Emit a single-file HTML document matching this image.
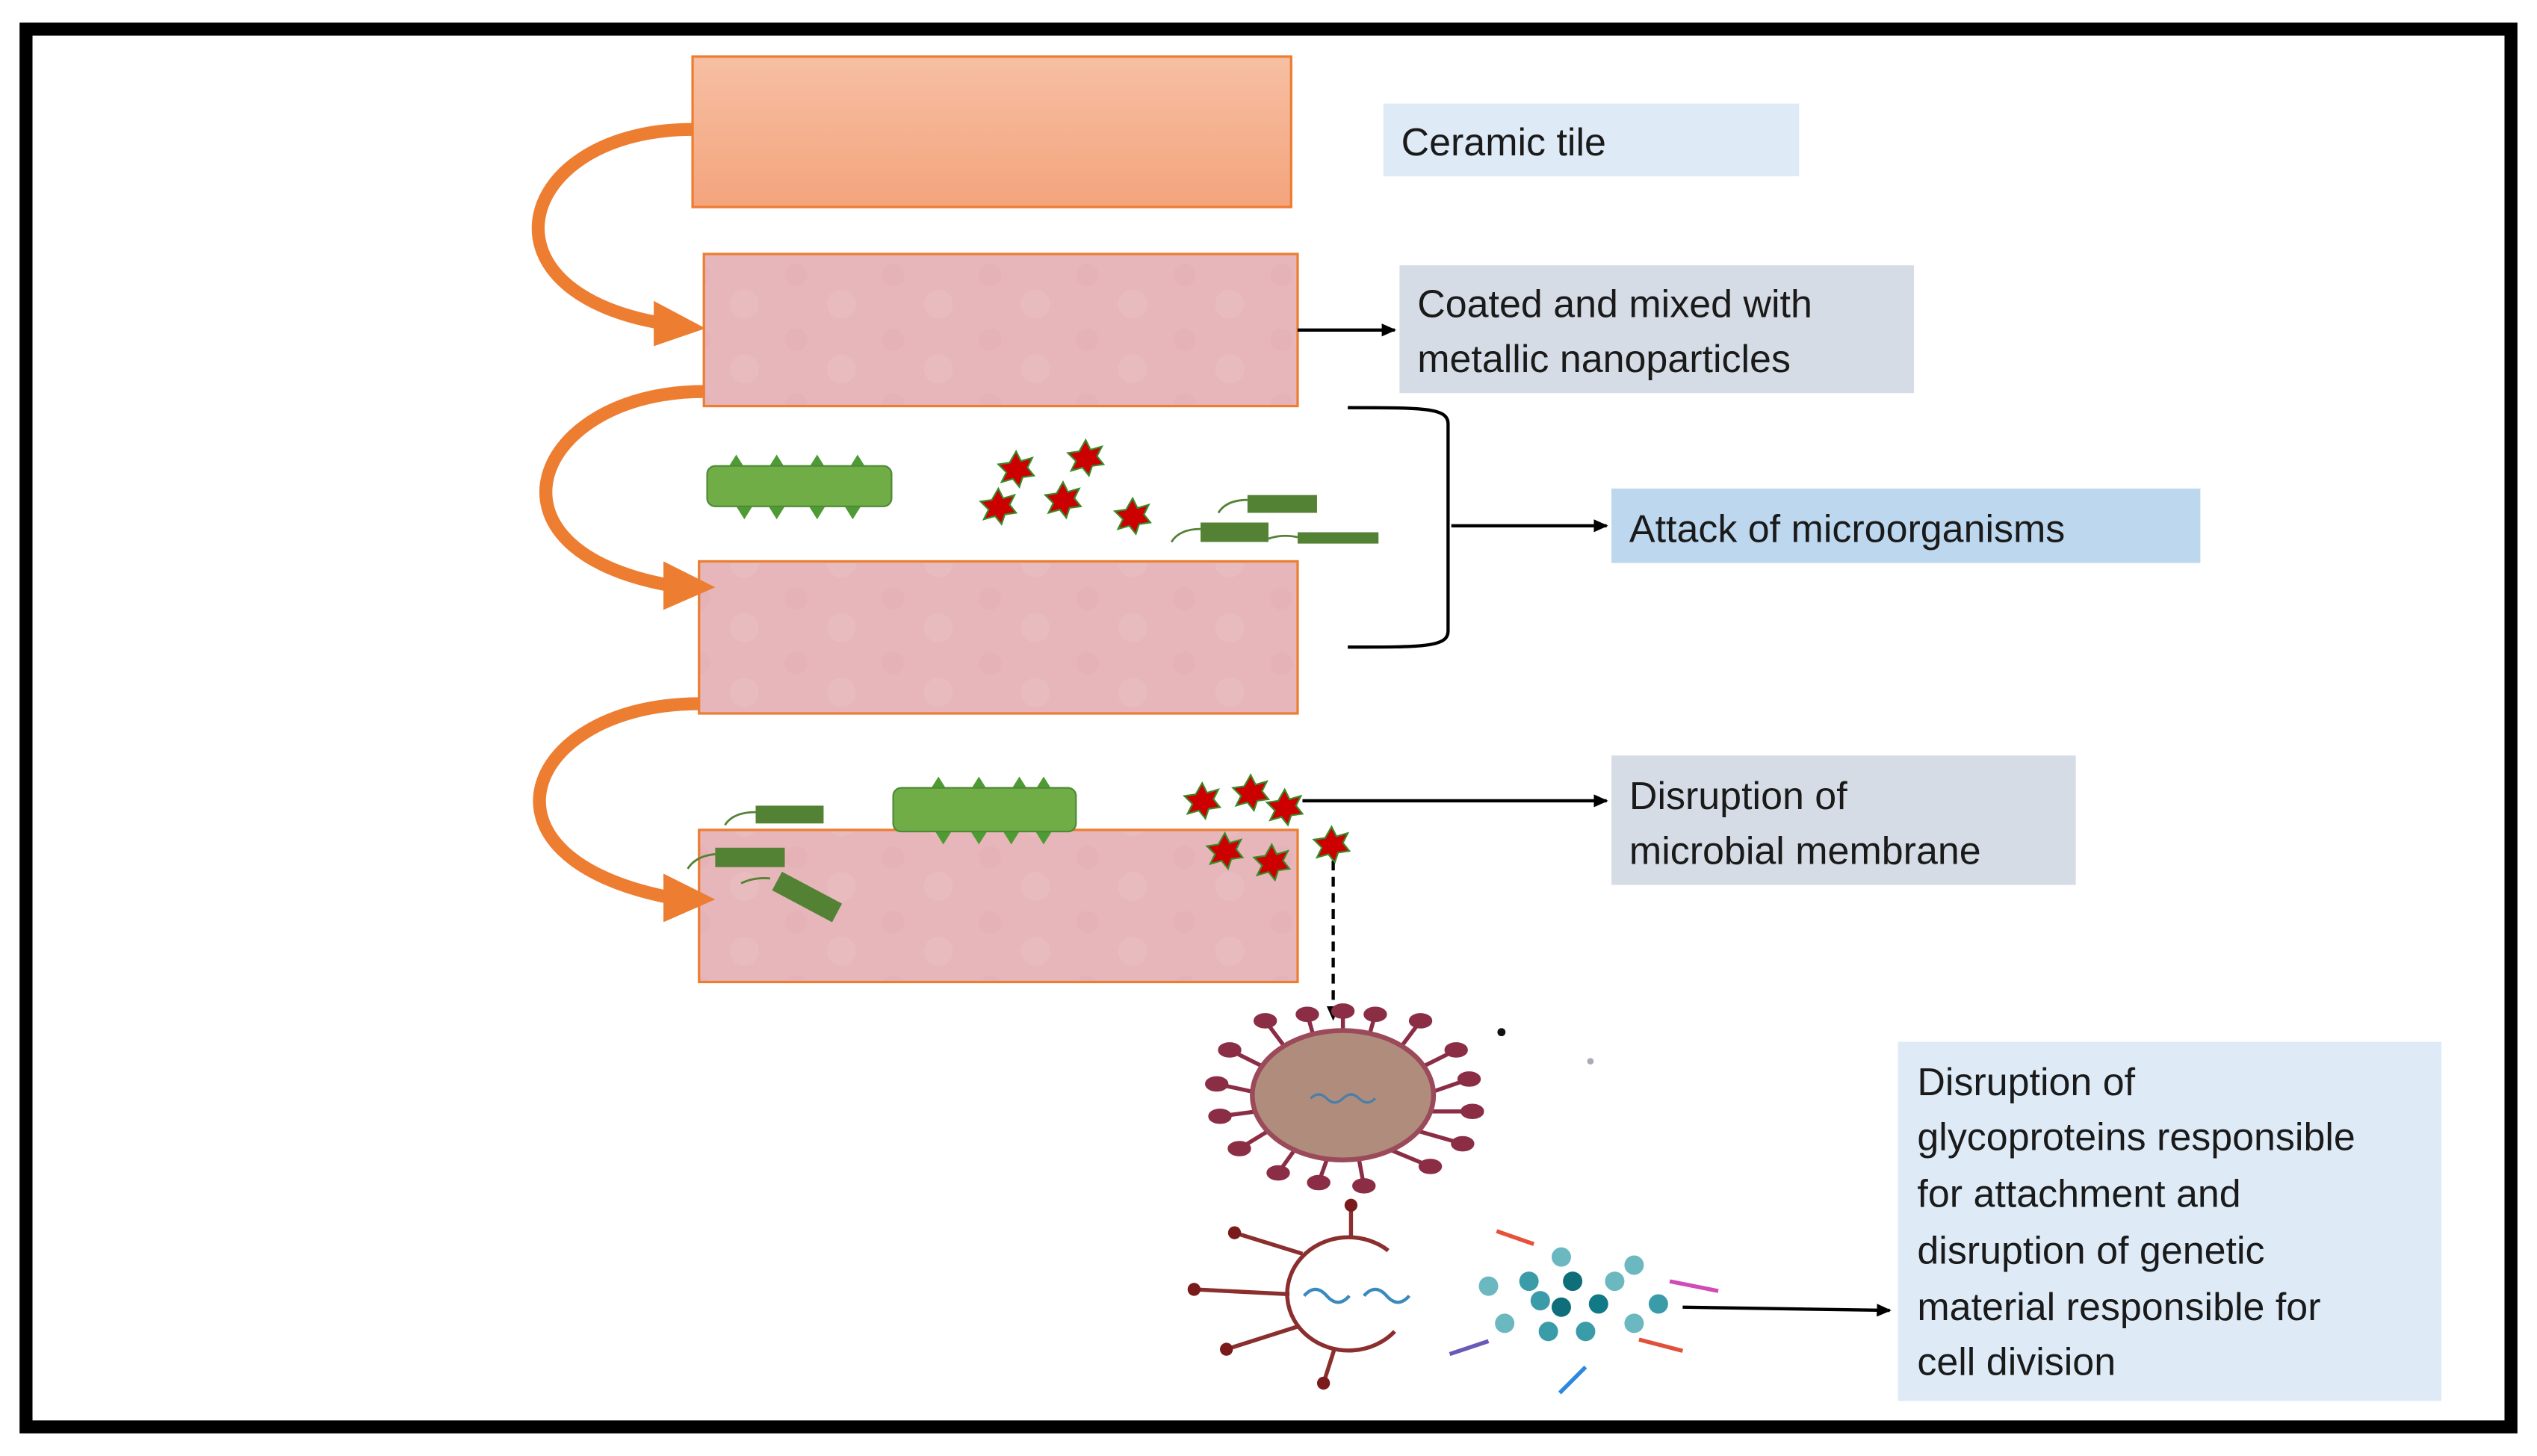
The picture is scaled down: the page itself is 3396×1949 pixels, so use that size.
<!DOCTYPE html>
<html><head><meta charset="utf-8"><style>
html,body{margin:0;padding:0;background:#fff;}
svg{display:block;}
text{font-family:"Liberation Sans",sans-serif;font-size:24px;fill:#1a1a1a;}
</style></head><body>
<svg width="3396" height="1949" viewBox="0 0 1568 900" xmlns="http://www.w3.org/2000/svg">
<defs>
<linearGradient id="g1" x1="0" y1="0" x2="0" y2="1"><stop offset="0" stop-color="#f6bfa3"/><stop offset="1" stop-color="#f4a47c"/></linearGradient>
<pattern id="tex" width="60" height="40" patternUnits="userSpaceOnUse">
<rect width="60" height="40" fill="#e6b6ba"/>
<circle cx="12" cy="10" r="7" fill="#e3b0b4" opacity=".5"/><circle cx="40" cy="28" r="9" fill="#eac0c3" opacity=".5"/>
</pattern>
<marker id="ah" markerWidth="10" markerHeight="10" refX="8" refY="5" orient="auto" markerUnits="userSpaceOnUse"><path d="M0,1 L9,5 L0,9 z" fill="#000"/></marker>
<g id="star"><path d="M0,-11 L3,-5 L10,-7 L7,-1 L11,4 L4,5 L2,11 L-2,6 L-9,8 L-6,2 L-11,-3 L-4,-4 z" fill="#c00" stroke="#3a8a2a" stroke-width="1"/></g>
</defs>
<rect x="16" y="18" width="1536" height="864" fill="#fff" stroke="#000" stroke-width="8"/>

<rect x="428" y="35" width="370" height="93" fill="url(#g1)" stroke="#ed7d31" stroke-width="1.5"/>
<rect x="435" y="157" width="367" height="94" fill="url(#tex)" stroke="#ed7d31" stroke-width="1.5"/>
<rect x="432" y="347" width="370" height="94" fill="url(#tex)" stroke="#ed7d31" stroke-width="1.5"/>
<rect x="432" y="513" width="370" height="94" fill="url(#tex)" stroke="#ed7d31" stroke-width="1.5"/>

<g fill="none" stroke="#ed7d31" stroke-width="8">
<path d="M428,80 C320,80 290,180 410,200"/>
<path d="M435,242 C330,242 290,340 415,362"/>
<path d="M432,435 C325,435 285,530 415,555"/>
</g>
<g fill="#ed7d31">
<path d="M404,186 L436,203 L404,214 z"/>
<path d="M410,347 L442,363 L410,377 z"/>
<path d="M410,540 L442,556 L410,570 z"/>
</g>

<rect x="855" y="64" width="257" height="45" fill="#deebf7"/>
<text x="866" y="96">Ceramic tile</text>
<rect x="865" y="164" width="318" height="79" fill="#d6dce5"/>
<text x="876" y="196">Coated and mixed with</text>
<text x="876" y="230">metallic nanoparticles</text>
<rect x="996" y="302" width="364" height="46" fill="#bdd7ee"/>
<text x="1007" y="335">Attack of microorganisms</text>
<rect x="996" y="467" width="287" height="80" fill="#d6dce5"/>
<text x="1007" y="500">Disruption of</text>
<text x="1007" y="534">microbial membrane</text>
<rect x="1173" y="644" width="336" height="222" fill="#deebf7"/>
<text x="1185" y="677">Disruption of</text>
<text x="1185" y="711">glycoproteins responsible</text>
<text x="1185" y="746">for attachment and</text>
<text x="1185" y="781">disruption of genetic</text>
<text x="1185" y="816">material responsible for</text>
<text x="1185" y="850">cell division</text>

<g stroke="#000" stroke-width="2" fill="none">
<line x1="802" y1="204" x2="862" y2="204" marker-end="url(#ah)"/>
<path d="M833,252 C880,252 895,252 895,262 L895,390 C895,400 880,400 833,400"/>
<line x1="897" y1="325" x2="993" y2="325" marker-end="url(#ah)"/>
<line x1="805" y1="495" x2="993" y2="495" marker-end="url(#ah)"/>
<line x1="824" y1="532" x2="824" y2="630" stroke-dasharray="6,4" marker-end="url(#ah)"/>
<line x1="1040" y1="808" x2="1168" y2="810" marker-end="url(#ah)"/>
</g>

<g fill="#4e9a35">
<path d="M450,289 l5,-8 l5,8z M475,289 l5,-8 l5,8z M500,289 l5,-8 l5,8z M525,289 l5,-8 l5,8z"/>
<path d="M455,313 l5,8 l5,-8z M475,313 l5,8 l5,-8z M500,313 l5,8 l5,-8z M522,313 l5,8 l5,-8z"/>
<path d="M575,488 l5,-8 l5,8z M600,488 l5,-8 l5,8z M625,488 l5,-8 l5,8z M640,488 l5,-8 l5,8z"/>
<path d="M578,514 l5,8 l5,-8z M600,514 l5,8 l5,-8z M620,514 l5,8 l5,-8z M640,514 l5,8 l5,-8z"/>
</g>
<rect x="437" y="288" width="114" height="25" rx="5" fill="#70ad47" stroke="#4e8a35"/>
<rect x="552" y="487" width="113" height="27" rx="5" fill="#70ad47" stroke="#4e8a35"/>

<g fill="#548235">
<rect x="771" y="306" width="43" height="11"/>
<rect x="742" y="323" width="42" height="12"/>
<rect x="802" y="329" width="50" height="7"/>
<rect x="467" y="498" width="42" height="11"/>
<rect x="442" y="524" width="43" height="12"/>
<rect x="478" y="548" width="42" height="13" transform="rotate(28 499 554)"/>
</g>
<g stroke="#548235" stroke-width="1.3" fill="none">
<path d="M753,317 q5,-8 18,-8"/><path d="M724,335 q5,-8 18,-8"/><path d="M784,333 q8,-3 18,-1"/>
<path d="M448,510 q5,-8 19,-8"/><path d="M425,537 q5,-8 17,-9"/><path d="M458,546 q8,-4 18,-3"/>
</g>

<use href="#star" x="628" y="290"/><use href="#star" x="671" y="283"/><use href="#star" x="617" y="313"/>
<use href="#star" x="657" y="309"/><use href="#star" x="700" y="319"/>
<use href="#star" x="743" y="495"/><use href="#star" x="773" y="490"/><use href="#star" x="794" y="499"/>
<use href="#star" x="757" y="526"/><use href="#star" x="786" y="533"/><use href="#star" x="823" y="522"/>

<g stroke="#8b2e45" stroke-width="2.5" fill="#8b2e45">
<g transform="translate(830,677)">
<line x1="0" y1="-40" x2="0" y2="-34"/>
<line x1="0" y1="-34" x2="0" y2="-52"/><ellipse cx="0" cy="-52" rx="6" ry="3.5"/>
<line x1="-36" y1="-30" x2="-48" y2="-46"/><ellipse cx="-48" cy="-46" rx="6" ry="3.5"/>
<line x1="36" y1="-30" x2="48" y2="-46"/><ellipse cx="48" cy="-46" rx="6" ry="3.5"/>
<line x1="16" y1="-36" x2="20" y2="-50"/><ellipse cx="20" cy="-50" rx="6" ry="3.5"/>
<line x1="-18" y1="-36" x2="-22" y2="-50"/><ellipse cx="-22" cy="-50" rx="6" ry="3.5"/>
<line x1="-50" y1="-18" x2="-70" y2="-28"/><ellipse cx="-70" cy="-28" rx="6" ry="3.5"/>
<line x1="50" y1="-18" x2="70" y2="-28"/><ellipse cx="70" cy="-28" rx="6" ry="3.5"/>
<line x1="-55" y1="-2" x2="-78" y2="-7"/><ellipse cx="-78" cy="-7" rx="6" ry="3.5"/>
<line x1="55" y1="-2" x2="78" y2="-10"/><ellipse cx="78" cy="-10" rx="6" ry="3.5"/>
<line x1="-53" y1="10" x2="-76" y2="13"/><ellipse cx="-76" cy="13" rx="6" ry="3.5"/>
<line x1="53" y1="10" x2="80" y2="10"/><ellipse cx="80" cy="10" rx="6" ry="3.5"/>
<line x1="-46" y1="22" x2="-64" y2="33"/><ellipse cx="-64" cy="33" rx="6" ry="3.5"/>
<line x1="46" y1="22" x2="74" y2="30"/><ellipse cx="74" cy="30" rx="6" ry="3.5"/>
<line x1="-30" y1="34" x2="-40" y2="48"/><ellipse cx="-40" cy="48" rx="6" ry="3.5"/>
<line x1="30" y1="34" x2="54" y2="44"/><ellipse cx="54" cy="44" rx="6" ry="3.5"/>
<line x1="-10" y1="40" x2="-15" y2="54"/><ellipse cx="-15" cy="54" rx="6" ry="3.5"/>
<line x1="10" y1="40" x2="13" y2="56"/><ellipse cx="13" cy="56" rx="6" ry="3.5"/>
</g>
</g>
<ellipse cx="830" cy="677" rx="56" ry="40" fill="#b08c7c" stroke="#9b4a5a" stroke-width="3"/>
<path d="M810,679 q5,-5 10,0 q5,5 10,0 q5,-5 10,0 q5,5 10,0" fill="none" stroke="#4a7fa8" stroke-width="1.5"/>
<circle cx="928" cy="638" r="2.5" fill="#111"/><circle cx="983" cy="656" r="2" fill="#aab"/>

<g stroke="#8b2e2e" stroke-width="2.5" fill="none">
<path d="M858,773 A38,35 0 1 0 862,823"/>
<line x1="835" y1="764" x2="835" y2="745"/><line x1="805" y1="775" x2="763" y2="762"/>
<line x1="797" y1="800" x2="738" y2="797"/><line x1="802" y1="820" x2="758" y2="834"/>
<line x1="825" y1="833" x2="818" y2="855"/>
</g>
<g fill="#7a1a1a"><circle cx="835" cy="745" r="4"/><circle cx="763" cy="762" r="4"/><circle cx="738" cy="797" r="4"/><circle cx="758" cy="834" r="4"/><circle cx="818" cy="855" r="4"/></g>
<path d="M806,801 q7,-8 14,0 q7,8 14,0 M843,801 q7,-8 14,0 q7,8 14,0" fill="none" stroke="#3a8abf" stroke-width="2"/>

<g fill="#6bb8c0">
<circle cx="965" cy="777" r="6"/><circle cx="1010" cy="782" r="6"/><circle cx="945" cy="792" r="6" fill="#3a9ca8"/>
<circle cx="972" cy="792" r="6" fill="#0e6e7a"/><circle cx="998" cy="792" r="6"/><circle cx="920" cy="795" r="6"/>
<circle cx="952" cy="804" r="6" fill="#3a9ca8"/><circle cx="965" cy="808" r="6" fill="#0e6e7a"/><circle cx="988" cy="806" r="6" fill="#127a86"/>
<circle cx="1025" cy="806" r="6" fill="#3a9ca8"/><circle cx="930" cy="818" r="6"/><circle cx="957" cy="823" r="6" fill="#3a9ca8"/>
<circle cx="980" cy="823" r="6" fill="#3a9ca8"/><circle cx="1010" cy="818" r="6"/>
</g>
<g stroke-width="2.5">
<line x1="925" y1="761" x2="948" y2="769" stroke="#e8503a"/>
<line x1="1032" y1="792" x2="1062" y2="798" stroke="#d04ab8"/>
<line x1="896" y1="837" x2="920" y2="829" stroke="#6a5ab8"/>
<line x1="1013" y1="828" x2="1040" y2="835" stroke="#e0503a"/>
<line x1="964" y1="861" x2="980" y2="845" stroke="#2a8ae0"/>
</g>
</svg>
</body></html>
